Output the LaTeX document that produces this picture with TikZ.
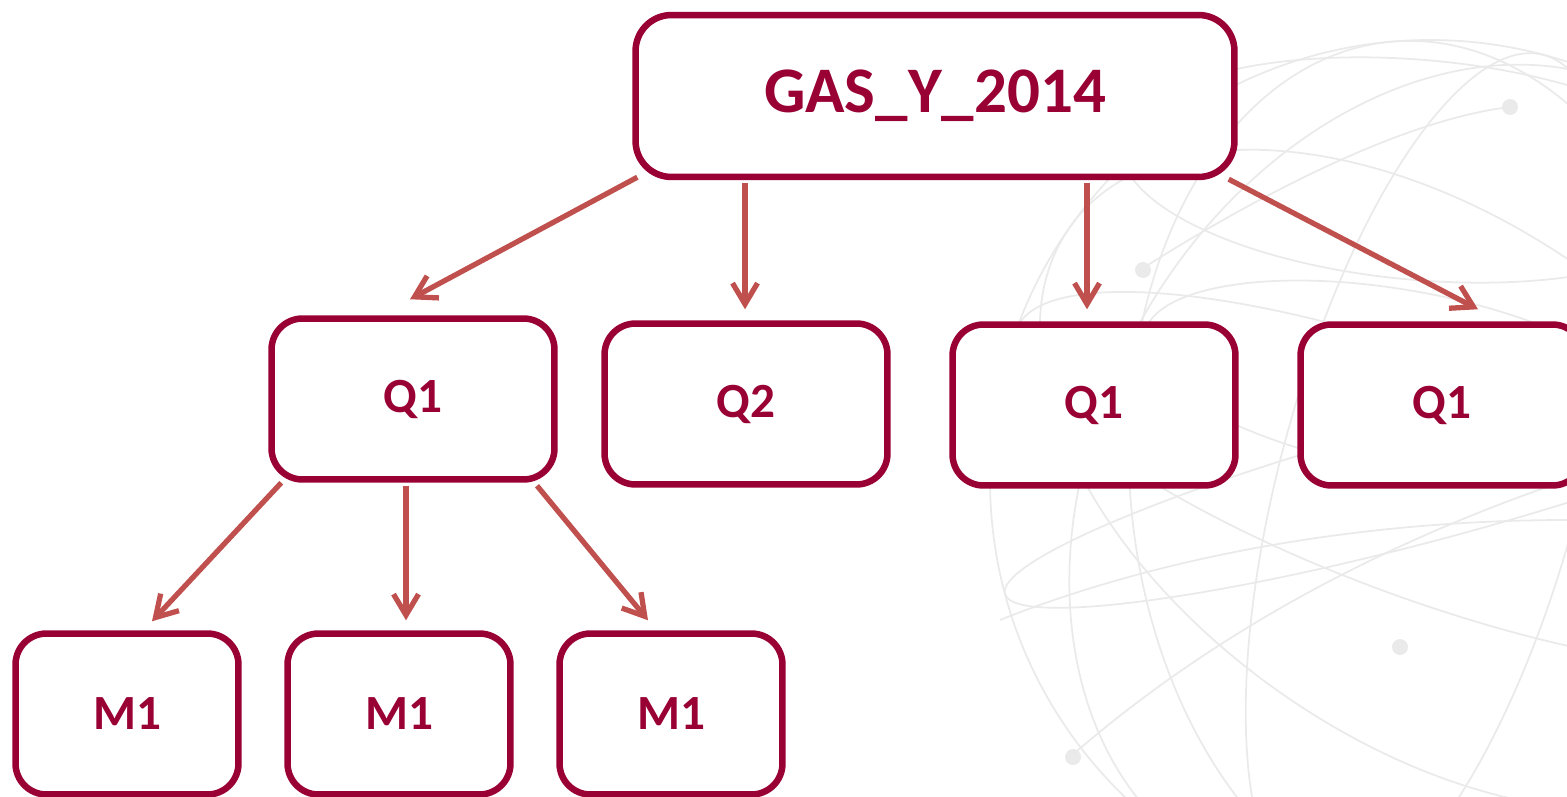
\documentclass[tikz,border=0pt]{standalone}
\usepackage{fontspec}
\setmainfont{Carlito}
\usetikzlibrary{arrows.meta,calc}
\definecolor{maroon}{RGB}{153,0,51}
\definecolor{arrred}{RGB}{192,80,77}
\definecolor{globe}{RGB}{234,234,234}
\tikzset{
  box/.style={draw=maroon, line width=3.7pt, fill=white, rounded corners=0.62cm,
    text=maroon, font=\bfseries\fontsize{28}{34}\selectfont, inner sep=0pt},
  topbox/.style={box, minimum width=11.98cm, minimum height=3.24cm, rounded corners=0.72cm,
    font=\bfseries\fontsize{37}{44}\selectfont},
  qbox/.style={box, minimum width=5.66cm, minimum height=3.22cm},
  mbox/.style={box, minimum width=4.46cm, minimum height=3.22cm},
  arr/.style={draw=arrred, line width=3pt, -{Straight Barb[length=0.42cm,width=0.5cm,line width=3pt]}},
  globeline/.style={draw=globe, line width=1pt},
  globedot/.style={fill=globe, draw=none}
}
\begin{document}
\begin{tikzpicture}[x=0.02cm,y=-0.02cm]
\useasboundingbox (0,0) rectangle (1567,797);
\begin{scope}
\clip (0,0) rectangle (1567,797);
% faint globe in the background
\draw[globeline] (1430,480) circle (440);
\draw[globeline,rotate around={-20:(1430,480)}] (1430,480) ellipse (440 and 120);
\draw[globeline,rotate around={-35:(1430,480)}] (1430,480) ellipse (440 and 260);
\draw[globeline,rotate around={15:(1430,480)}] (1430,480) ellipse (440 and 60);
\draw[globeline,rotate around={75:(1430,480)}] (1430,480) ellipse (440 and 150);
\draw[globeline,rotate around={95:(1430,480)}] (1430,480) ellipse (440 and 300);
\draw[globeline,rotate around={60:(1430,480)}] (1430,480) ellipse (440 and 330);
\draw[globeline,rotate around={-5:(1420,170)}] (1420,170) ellipse (300 and 110);
\draw[globeline,rotate around={-10:(1400,380)}] (1400,380) ellipse (260 and 90);
\draw[globeline] (1140,270) .. controls (1250,200) and (1400,120) .. (1510,107);
\draw[globeline] (1070,757) .. controls (1250,600) and (1450,520) .. (1567,480);
\draw[globeline] (1000,620) .. controls (1150,560) and (1350,520) .. (1567,520);
\fill[globedot] (1143,270) circle (8);
\fill[globedot] (1510,107) circle (8);
\fill[globedot] (1400,647) circle (8);
\fill[globedot] (1073,757) circle (8);

% nodes
\node[topbox] (top) at (935,96) {GAS\_Y\_2014};
\node[qbox] (q1l) at (413,399) {Q1};
\node[qbox] (q2)  at (746,404) {Q2};
\node[qbox] (q1m) at (1094,405) {Q1};
\node[qbox] (q1r) at (1442,405) {Q1};
\node[mbox] (m1a) at (127,714) {M1};
\node[mbox] (m1b) at (399,714) {M1};
\node[mbox] (m1c) at (671,714) {M1};

% connectors
\draw[arr] ($(top.south west)+(5,-3)$) -- ($(q1l.north)+(-3,-16)$);
\draw[arr] ($(top.south)+(-190,3)$) -- ($(q2.north)+(-1,-11)$);
\draw[arr] ($(top.south)+(152,3)$) -- ($(q1m.north)+(-7,-12)$);
\draw[arr] ($(top.south east)+(-9,-1)$) -- ($(q1r.north)+(36,-12)$);
\draw[arr] ($(q1l.south west)+(13,0)$) -- ($(m1a.north)+(25,-9)$);
\draw[arr] ($(q1l.south)+(-7,3)$) -- ($(m1b.north)+(7,-10)$);
\draw[arr] ($(q1l.south)+(124,3)$) -- ($(m1c.north)+(-23,-10)$);
\end{scope}
\end{tikzpicture}
\end{document}
